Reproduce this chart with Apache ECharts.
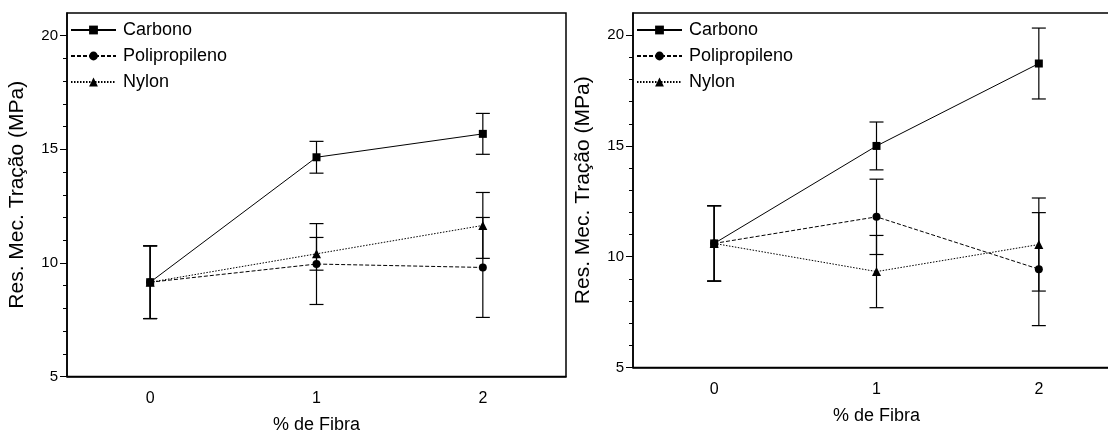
<!DOCTYPE html>
<html>
<head>
<meta charset="utf-8">
<script src="https://cdn.jsdelivr.net/npm/echarts@6/dist/echarts.min.js"></script>
<style>
  html, body { margin: 0; padding: 0; background: #ffffff; }
  #chart { width: 1108px; height: 432px; }
</style>
</head>
<body>
<div id="chart"></div>
<script>
// % de fibra
const categories = ['0', '1', '2']
const seriesNames = ['Carbono', 'Polipropileno', 'Nylon']

// painel esquerdo
const carbonoA = [9.15, 14.65, 15.68]
const carbonoAErr = [1.6, 0.7, 0.9]
const poliA = [9.15, 9.95, 9.8]
const poliAErr = [1.6, 1.78, 2.2]
const nylonA = [9.15, 10.4, 11.65]
const nylonAErr = [1.6, 0.72, 1.45]

// painel direito
const carbonoB = [10.6, 15.0, 18.72]
const carbonoBErr = [1.7, 1.08, 1.6]
const poliB = [10.6, 11.8, 9.44]
const poliBErr = [1.7, 1.7, 2.55]
const nylonB = [10.6, 9.33, 10.55]
const nylonBErr = [1.7, 1.63, 2.1]

const yMajorTicks = [5, 10, 15, 20]
const yMinorTicks = [6, 7, 8, 9, 11, 12, 13, 14, 16, 17, 18, 19]

const font = 'Liberation Sans, Arial, sans-serif'
const black = '#000000'

const lineStyles = [
  { type: 'solid', symbol: 'rect', size: 8 },
  { type: [4, 2], symbol: 'circle', size: 8 },
  { type: [1.5, 1.5], symbol: 'triangle', size: 9 }
]

const errData = (vals, errs) => vals.map((v, i) => [i, v - errs[i], v + errs[i]])

const renderErr = (params, api) => {
  const x = api.value(0)
  const top = api.coord([x, api.value(2)])
  const bot = api.coord([x, api.value(1)])
  const w = 7
  const st = { stroke: black, lineWidth: 1.2 }
  return {
    type: 'group',
    children: [
      { type: 'line', shape: { x1: top[0], y1: top[1], x2: bot[0], y2: bot[1] }, style: st },
      { type: 'line', shape: { x1: top[0] - w, y1: top[1], x2: top[0] + w, y2: top[1] }, style: st },
      { type: 'line', shape: { x1: bot[0] - w, y1: bot[1], x2: bot[0] + w, y2: bot[1] }, style: st }
    ]
  }
}

const makeX = idx => ({
  type: 'category',
  gridIndex: idx,
  data: categories,
  boundaryGap: true,
  axisLine: { lineStyle: { color: black, width: 1.5 } },
  axisTick: { alignWithLabel: true, length: 7, lineStyle: { color: black, width: 1 } },
  axisLabel: { color: black, fontSize: 16, fontFamily: font, margin: 14 },
  name: '% de Fibra',
  nameLocation: 'middle',
  nameGap: 40,
  nameTextStyle: { color: black, fontSize: 18, fontFamily: font }
})

const makeY = idx => ({
  type: 'value',
  gridIndex: idx,
  position: 'left',
  min: 5,
  max: 21,
  interval: 5,
  axisLine: { show: true, lineStyle: { color: black, width: 1.5 } },
  axisTick: { show: true, customValues: yMajorTicks, length: 7, lineStyle: { color: black, width: 1 } },
  axisLabel: { customValues: yMajorTicks, color: black, fontSize: 15, fontFamily: font, margin: 9 },
  splitLine: { show: false },
  name: 'Res. Mec. Tração (MPa)',
  nameLocation: 'middle',
  nameGap: 39,
  nameTextStyle: { color: black, fontSize: 21, fontFamily: font }
})

// eixo auxiliar só para os ticks menores
const makeYMinor = idx => ({
  type: 'value',
  gridIndex: idx,
  position: 'left',
  offset: 0,
  min: 5,
  max: 21,
  axisLine: { show: false },
  axisTick: { show: true, customValues: yMinorTicks, length: 4, lineStyle: { color: black, width: 1 } },
  axisLabel: { show: false },
  splitLine: { show: false }
})

const makeLegend = left => ({
  data: seriesNames,
  orient: 'vertical',
  left: left,
  top: 16,
  itemWidth: 45,
  itemHeight: 11,
  itemGap: 8,
  selectedMode: false,
  textStyle: { color: black, fontSize: 18, fontFamily: font, padding: [0, 0, 0, 2] }
})

const panels = [
  { vals: [carbonoA, poliA, nylonA], errs: [carbonoAErr, poliAErr, nylonAErr] },
  { vals: [carbonoB, poliB, nylonB], errs: [carbonoBErr, poliBErr, nylonBErr] }
]

const series = []
panels.forEach((p, gi) => {
  p.vals.forEach((vals, si) => {
    series.push({
      type: 'custom',
      xAxisIndex: gi,
      yAxisIndex: gi,
      renderItem: renderErr,
      encode: { x: 0, y: [1, 2] },
      data: errData(vals, p.errs[si]),
      z: 1,
      silent: true
    })
  })
  p.vals.forEach((vals, si) => {
    const ls = lineStyles[si]
    series.push({
      name: seriesNames[si],
      type: 'line',
      xAxisIndex: gi,
      yAxisIndex: gi,
      data: vals,
      symbol: ls.symbol,
      symbolSize: ls.size,
      showAllSymbol: true,
      lineStyle: { color: black, width: 1, type: ls.type },
      itemStyle: { color: black },
      z: 3
    })
  })
})

const myChart = echarts.init(document.getElementById('chart'))
myChart.setOption({
  animation: false,
  backgroundColor: '#ffffff',
  textStyle: { fontFamily: font },
  legend: [makeLegend(65), makeLegend(631)],
  grid: [
    { left: 67, top: 13, width: 499, height: 363.5, outerBoundsMode: 'none', containLabel: false, show: true, borderColor: black, borderWidth: 1.5 },
    { left: 633, top: 13, width: 487, height: 354.5, outerBoundsMode: 'none', containLabel: false, show: true, borderColor: black, borderWidth: 1.5 }
  ],
  xAxis: [makeX(0), makeX(1)],
  yAxis: [makeY(0), makeY(1), makeYMinor(0), makeYMinor(1)],
  series: series
})
</script>
</body>
</html>
